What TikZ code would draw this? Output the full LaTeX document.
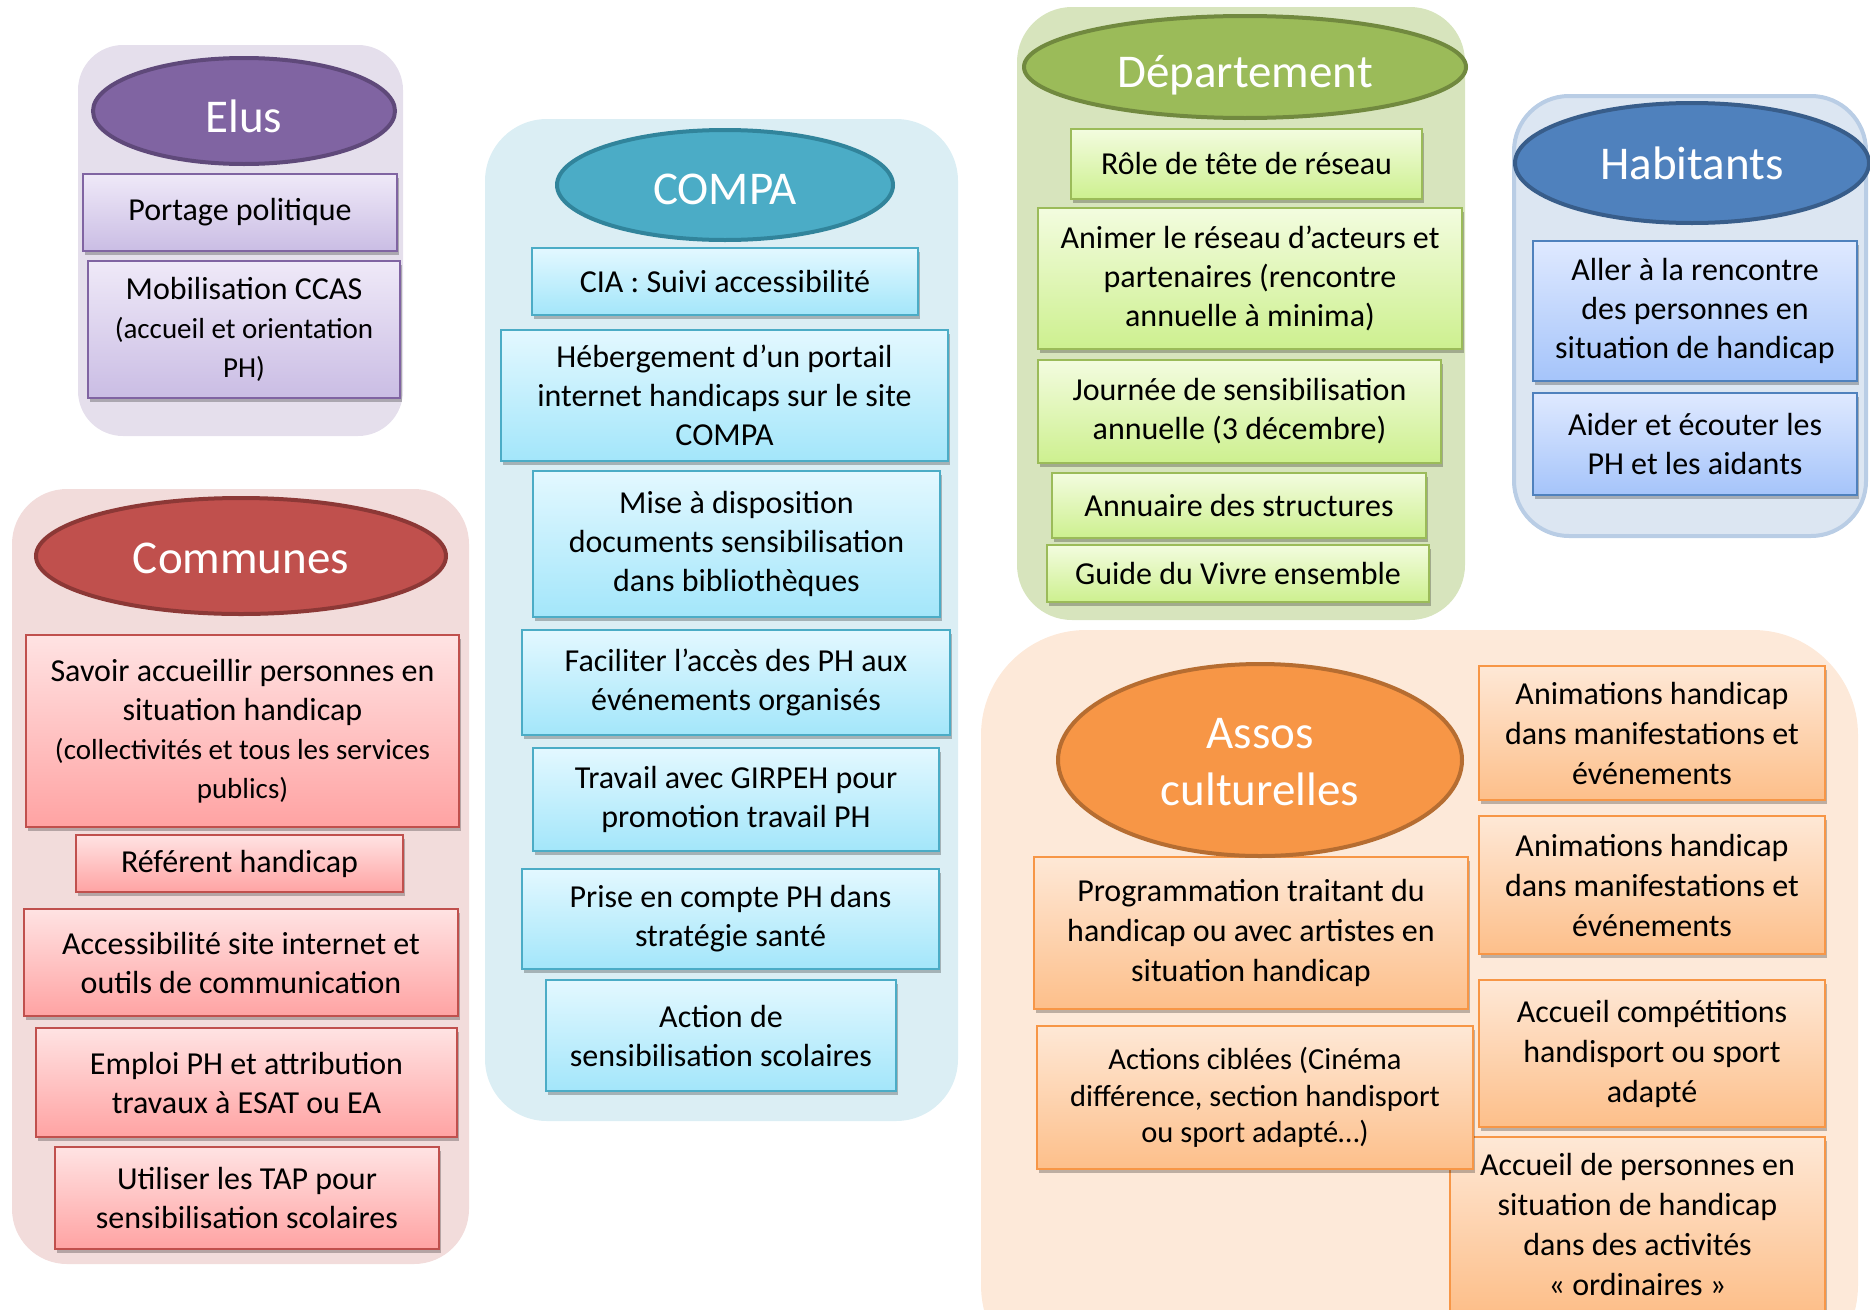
\documentclass[tikz,border=0pt]{standalone}
\usepackage{fontspec}
\setmainfont{Carlito}
\usetikzlibrary{shapes.geometric,shadows}
\newcommand\sm{\fontsize{29}{36}\selectfont}
\newcommand\dropt[2]{\raisebox{-#1}[\height][\depth]{#2}}
% panels
\definecolor{elusP}{HTML}{E5DFEC}
\definecolor{comP}{HTML}{F2DCDB}
\definecolor{compaP}{HTML}{DBEEF4}
\definecolor{depP}{HTML}{D7E4BD}
\definecolor{habP}{HTML}{DCE6F2}
\definecolor{habPB}{HTML}{B9CDE5}
\definecolor{assP}{HTML}{FDE9D9}
% ellipses
\definecolor{elusE}{HTML}{8064A2}\definecolor{elusEB}{HTML}{5F497A}
\definecolor{comE}{HTML}{C0504D}\definecolor{comEB}{HTML}{8C3836}
\definecolor{compaE}{HTML}{4BACC6}\definecolor{compaEB}{HTML}{31849B}
\definecolor{depE}{HTML}{9BBB59}\definecolor{depEB}{HTML}{71893F}
\definecolor{habE}{HTML}{4F81BD}\definecolor{habEB}{HTML}{385D8A}
\definecolor{assE}{HTML}{F79646}\definecolor{assEB}{HTML}{B66D31}
% boxes
\definecolor{elusT}{HTML}{EFE9F8}\definecolor{elusBt}{HTML}{CABDE4}
\definecolor{comT}{HTML}{FFE3E3}\definecolor{comBt}{HTML}{FFA3A3}
\definecolor{compaT}{HTML}{E3F8FF}\definecolor{compaBt}{HTML}{A3E6FA}
\definecolor{depT}{HTML}{F3FCDF}\definecolor{depBt}{HTML}{CDF08F}
\definecolor{habT}{HTML}{DFE9FF}\definecolor{habBt}{HTML}{A5C4FA}
\definecolor{assT}{HTML}{FEE8D6}\definecolor{assBt}{HTML}{FDBF8A}
\begin{document}
\begin{tikzpicture}[x=1pt,y=-1pt,
  panelbox/.style={rectangle, inner sep=0pt, draw=none, rounded corners=55pt},
  titleell/.style={ellipse, inner sep=0pt, line width=4pt, text=white,
     font=\fontsize{47}{57}\selectfont, align=center},
  itembox/.style={rectangle, inner sep=0pt, align=center, line width=1.8pt,
     font=\fontsize{32}{39}\selectfont,
     drop shadow={shadow xshift=1.5pt, shadow yshift=-4pt, fill=black, opacity=0.25}},
  elusbox/.style={itembox, draw=elusE, top color=elusT, bottom color=elusBt},
  combox/.style={itembox, draw=comE, top color=comT, bottom color=comBt},
  compabox/.style={itembox, draw=compaE, top color=compaT, bottom color=compaBt},
  depbox/.style={itembox, draw=depE, top color=depT, bottom color=depBt},
  habbox/.style={itembox, draw=habE, top color=habT, bottom color=habBt},
  assbox/.style={itembox, draw=assE, top color=assT, bottom color=assBt,
     font=\fontsize{32}{40}\selectfont},
]
\useasboundingbox (0,0) rectangle (1870,1309);
\begin{scope}
\clip (0,0) rectangle (1870,1309);
% ---------- panels
\node[panelbox, fill=elusP, rounded corners=45pt, minimum width=325, minimum height=391] (pelus) at (240.5,240.5) {};
\node[panelbox, fill=comP, minimum width=457, minimum height=775] (pcom) at (240.5,876.5) {};
\node[panelbox, fill=compaP, rounded corners=62pt, minimum width=473, minimum height=1002] (pcompa) at (721.5,620) {};
\node[panelbox, fill=depP, minimum width=448, minimum height=613] (pdep) at (1241,313.5) {};
\node[panelbox, fill=habP, draw=habPB, line width=4pt, minimum width=352, minimum height=440] (phab) at (1690,316) {};
\node[panelbox, fill=assP, rounded corners=105pt, minimum width=877, minimum height=760] (pass) at (1419.5,1010) {};

% ---------- Elus
\node[elusbox, minimum width=314, minimum height=77] (portage) at (240,212.5) {Portage politique};
\node[elusbox, minimum width=312, minimum height=137] (mobil) at (244,329.5)
  {Mobilisation CCAS\\ \sm(accueil et orientation\\ \sm PH)};

% ---------- Communes
\node[combox, minimum width=433, minimum height=192] (savoir) at (242.5,731)
  {Savoir accueillir personnes en\\situation handicap\\ \sm(collectivités et tous les services\\ \sm publics)};
\node[combox, minimum width=327, minimum height=57] (referent) at (239.5,863.5) {Référent handicap};
\node[combox, minimum width=434, minimum height=107] (access) at (241,962.5)
  {Accessibilité site internet et\\outils de communication};
\node[combox, minimum width=421, minimum height=109] (emploi) at (246.5,1082.5)
  {Emploi PH et attribution\\travaux à ESAT ou EA};
\node[combox, minimum width=384, minimum height=102] (utiliser) at (247,1198)
  {Utiliser les TAP pour\\sensibilisation scolaires};

% ---------- COMPA
\node[compabox, minimum width=386, minimum height=67] (cia) at (725,281.5) {CIA : Suivi accessibilité};
\node[compabox, minimum width=447, minimum height=131] (heberg) at (724.5,395.5)
  {Hébergement d’un portail\\internet handicaps sur le site\\COMPA};
\node[compabox, minimum width=407, minimum height=146] (mise) at (736.5,544)
  {Mise à disposition\\documents sensibilisation\\dans bibliothèques};
\node[compabox, minimum width=428, minimum height=105] (faciliter) at (736,682.5)
  {Faciliter l’accès des PH aux\\événements organisés};
\node[compabox, minimum width=406, minimum height=103] (travail) at (736,799.5)
  {Travail avec GIRPEH pour\\promotion travail PH};
\node[compabox, minimum width=417, minimum height=100] (prise) at (730.5,919)
  {Prise en compte PH dans\\stratégie santé};
\node[compabox, minimum width=350, minimum height=111] (action) at (721,1035.5)
  {Action de\\sensibilisation scolaires};

% ---------- Departement
\node[depbox, minimum width=351, minimum height=70] (role) at (1246.5,164) {Rôle de tête de réseau};
\node[depbox, minimum width=424, minimum height=141] (animer) at (1250,278.5)
  {Animer le réseau d’acteurs et\\partenaires (rencontre\\annuelle à minima)};
\node[depbox, minimum width=403, minimum height=103] (journee) at (1239.5,411.5)
  {Journée de sensibilisation\\annuelle (3 décembre)};
\node[depbox, minimum width=374, minimum height=65] (annuaire) at (1239,505.5) {Annuaire des structures};
\node[depbox, minimum width=382, minimum height=57] (guide) at (1238,573.5) {Guide du Vivre ensemble};

% ---------- Habitants
\node[habbox, minimum width=324, minimum height=140] (aller) at (1695,311)
  {Aller à la rencontre\\des personnes en\\situation de handicap};
\node[habbox, minimum width=324, minimum height=102] (aider) at (1695,444)
  {Aider et écouter les\\PH et les aidants};

% ---------- Assos
\node[assbox, minimum width=346, minimum height=134] (anim1) at (1652,733)
  {Animations handicap\\dans manifestations et\\événements};
\node[assbox, minimum width=346, minimum height=138] (anim2) at (1652,885)
  {Animations handicap\\dans manifestations et\\événements};
\node[assbox, minimum width=346, minimum height=147] (accomp) at (1652,1053.5)
  {Accueil compétitions\\handisport ou sport\\adapté};
\node[assbox, minimum width=375, minimum height=174] (accpers) at (1637.5,1224)
  {Accueil de personnes en\\situation de handicap\\dans des activités\\« ordinaires »};
\node[assbox, minimum width=434, minimum height=152] (prog) at (1251,933)
  {Programmation traitant du\\handicap ou avec artistes en\\situation handicap};
\node[assbox, minimum width=436, minimum height=143, font=\fontsize{30.5}{36.5}\selectfont] (actions) at (1255,1097.5)
  {Actions ciblées (Cinéma\\différence, section handisport\\ou sport adapté…)};

% ---------- title ellipses
\node[titleell, fill=elusE, draw=elusEB, minimum width=302, minimum height=106] (elus) at (244,111) {\dropt{5pt}{Elus}};
\node[titleell, fill=comE, draw=comEB, minimum width=410, minimum height=116] (communes) at (241,556) {\dropt{2pt}{Communes}};
\node[titleell, fill=compaE, draw=compaEB, minimum width=336, minimum height=110] (compa) at (725,185) {\dropt{4pt}{COMPA}};
\node[titleell, fill=depE, draw=depEB, minimum width=442, minimum height=102] (dep) at (1245,67) {\dropt{8pt}{Département}};
\node[titleell, fill=habE, draw=habEB, minimum width=354, minimum height=120] (hab) at (1692,163) {Habitants};
\node[titleell, fill=assE, draw=assEB, minimum width=404, minimum height=192] (assos) at (1260,760)
  {\dropt{6pt}{\begin{tabular}{@{}c@{}}Assos\\culturelles\end{tabular}}};
\end{scope}
\end{tikzpicture}
\end{document}
